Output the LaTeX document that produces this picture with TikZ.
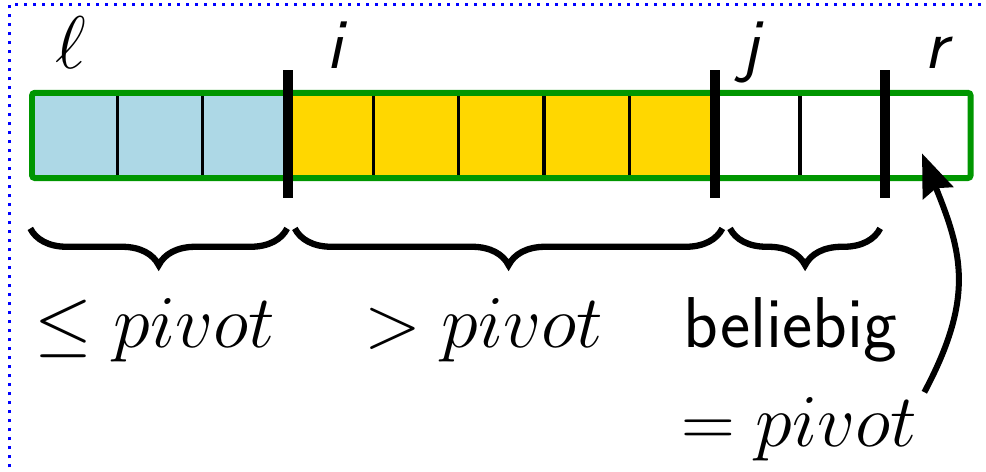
\documentclass[tikz,border=0pt]{standalone}
\usepackage{tikz}
\usetikzlibrary{positioning,arrows.meta,calc,decorations.pathreplacing}
\definecolor{arraygreen}{RGB}{0,150,0}
\definecolor{smallblue}{RGB}{173,216,230}
\definecolor{biggold}{RGB}{255,215,0}

\begin{document}
\begin{tikzpicture}[font=\fontsize{24}{28}\selectfont,
  cell/.style={minimum width=1cm,minimum height=1cm,inner sep=0pt,outer sep=0pt},
  bar/.style={line width=3.3pt},
  sepline/.style={line width=1.1pt},
  brc/.style={decorate,decoration={brace,mirror,amplitude=0.43cm},line width=2.1pt},
  idx/.style={anchor=base,inner sep=0pt}
]
\useasboundingbox (-0.375,-3.435) rectangle (11.18,2.087);
\draw[blue,dotted,line width=1pt] (-0.258,-3.6) |- (11.3,2.03);

% the array
\foreach \k in {0,...,10}{
  \node[cell] (c\k) at (\k+0.5,0.5) {};
}
\fill[smallblue] (c0.south west) rectangle (c2.north east);
\fill[biggold] (c3.south west) rectangle (c7.north east);
\foreach \k in {1,2,4,5,6,7,9}{
  \draw[sepline] (c\k.south west) -- (c\k.north west);
}
\draw[arraygreen,line width=2pt,rounded corners=1pt] (c0.south west) rectangle (c10.north east);
\foreach \k in {3,8,10}{
  \draw[bar] ($(c\k.south west)+(0,-0.23)$) -- ($(c\k.north west)+(0,0.27)$);
}

% indices
\node[idx] (il) at (0.45,1.28) {$\ell$};
\node[idx] (ii) at (3.55,1.28) {\sffamily\slshape i};
\node[idx] (ij) at (8.42,1.28) {\sffamily\slshape j};
\node[idx] (ir) at (10.59,1.28) {\sffamily\slshape r};

% braces
\draw[brc] ($(c0.south west)+(-0.02,-0.59)$) -- ($(c2.south east)+(-0.01,-0.59)$);
\draw[brc] ($(c3.south west)+(0.08,-0.59)$) -- ($(c7.south east)+(0.09,-0.59)$);
\draw[brc] ($(c8.south west)+(0.18,-0.59)$) -- ($(c9.south east)+(-0.06,-0.59)$);

\node[idx] (le) at (1.44,-1.99) {$\leq pivot$};
\node[idx] (gt) at (5.29,-1.99) {$> pivot$};
\node[idx] (any) at (8.89,-1.99) {\sffamily beliebig};
\node[idx] (eq) at (8.99,-3.15) {$= pivot$};

\coordinate (arrstart) at ($(eq.north east)+(0.08,0.06)$);
\coordinate (rtip) at ($(c10.center)+(-0.07,-0.21)$);
\draw[-{Stealth[length=0.5cm,width=0.38cm,inset=0.06cm]},line width=2pt]
  (arrstart) to[out=62,in=-68,looseness=1.15] (rtip);
\end{tikzpicture}
\end{document}
